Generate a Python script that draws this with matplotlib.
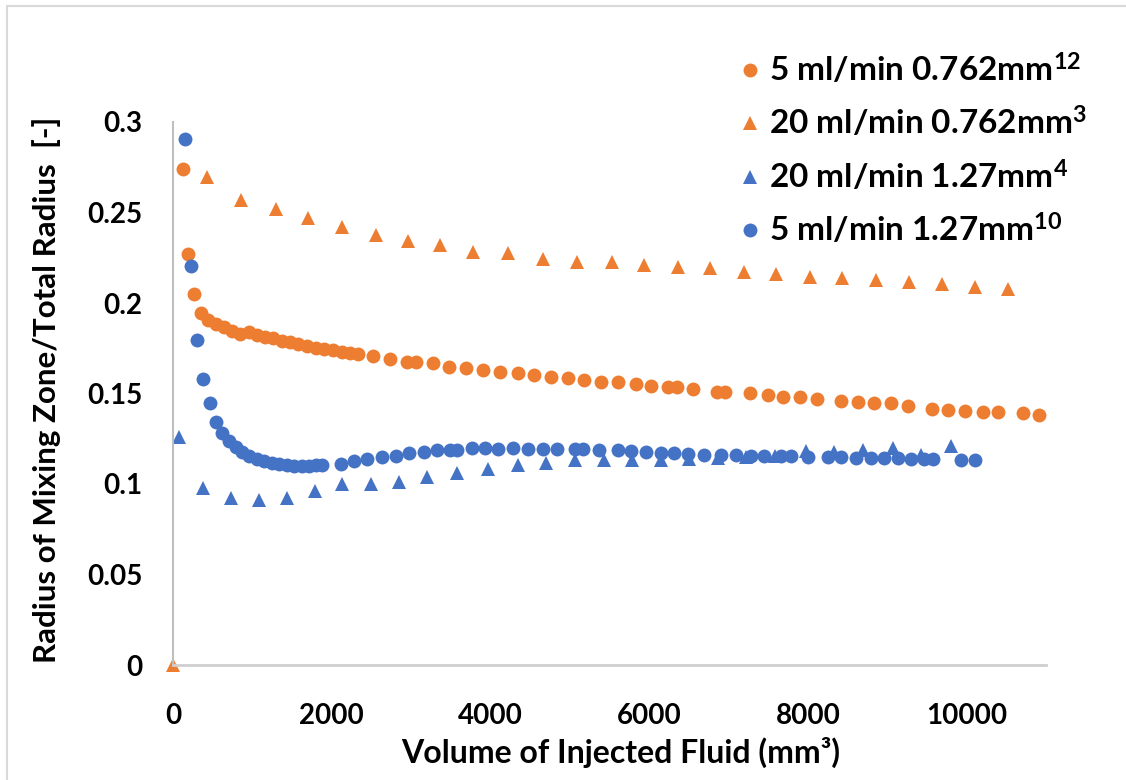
import matplotlib
matplotlib.use("Agg")
import matplotlib.pyplot as plt
from matplotlib.lines import Line2D
from matplotlib.patches import Rectangle

plt.rcParams['font.family'] = ['Lato', 'DejaVu Sans']
plt.rcParams['font.weight'] = 'bold'
plt.rcParams['mathtext.fontset'] = 'custom'
plt.rcParams['mathtext.rm'] = 'Lato:bold'
plt.rcParams['mathtext.it'] = 'Lato:bold'
plt.rcParams['mathtext.bf'] = 'Lato:bold'

ORANGE = '#ED7D31'
BLUE = '#4472C4'

# 5 ml/min, 0.762 mm
vol_5_0762 = [126, 189, 265, 353, 442, 543, 644, 744, 845, 959, 1060, 1161, 1262,
              1375, 1476, 1577, 1691, 1804, 1905, 2019, 2132, 2233, 2334, 2524,
              2738, 2953, 3066, 3281, 3483, 3697, 3912, 4126, 4341, 4543, 4757,
              4972, 5174, 5388, 5603, 5830, 6019, 6233, 6347, 6549, 6852, 6953,
              7268, 7495, 7685, 7899, 8114, 8416, 8631, 8833, 9047, 9262, 9565,
              9767, 9981, 10208, 10397, 10713, 10915]
rad_5_0762 = [0.274, 0.227, 0.205, 0.1945, 0.1906, 0.1884, 0.1867, 0.1845, 0.1829,
              0.184, 0.1823, 0.1812, 0.1807, 0.179, 0.1785, 0.1773, 0.1762,
              0.1751, 0.1746, 0.174, 0.1729, 0.1724, 0.1718, 0.1707, 0.1691,
              0.1674, 0.1674, 0.1669, 0.1646, 0.1641, 0.163, 0.1619, 0.1613,
              0.1602, 0.1591, 0.1586, 0.1575, 0.1564, 0.1564, 0.1552, 0.1541,
              0.1536, 0.1536, 0.1525, 0.1508, 0.1508, 0.1503, 0.1492, 0.1481,
              0.1481, 0.147, 0.1459, 0.1453, 0.1448, 0.1448, 0.1431, 0.1414,
              0.1409, 0.1403, 0.1398, 0.1398, 0.1392, 0.1381]

# 20 ml/min, 0.762 mm
vol_20_0762 = [0, 429, 858, 1300, 1703, 2132, 2561, 2965, 3369, 3785, 4227, 4656,
               5085, 5527, 5931, 6360, 6763, 7192, 7596, 8025, 8429, 8858, 9274,
               9691, 10107, 10524]
rad_20_0762 = [0.0, 0.2696, 0.2569, 0.2519, 0.247, 0.242, 0.2376, 0.2343, 0.232,
               0.2282, 0.2276, 0.2243, 0.2227, 0.2227, 0.221, 0.2199, 0.2193,
               0.2171, 0.216, 0.2144, 0.2138, 0.2127, 0.2116, 0.2105, 0.2088,
               0.2077]

# 20 ml/min, 1.27 mm
vol_20_127 = [76, 379, 732, 1085, 1438, 1792, 2132, 2498, 2852, 3205, 3584, 3975,
              4341, 4694, 5060, 5426, 5779, 6145, 6498, 6864, 7218, 7584, 7975,
              8328, 8694, 9073, 9426, 9804]
rad_20_127 = [0.126, 0.0978, 0.0923, 0.0912, 0.0923, 0.0961, 0.1, 0.1, 0.1011,
              0.1039, 0.1061, 0.1083, 0.1105, 0.1116, 0.1133, 0.1133, 0.1133,
              0.1133, 0.1138, 0.1144, 0.1149, 0.1155, 0.1182, 0.1177, 0.1188,
              0.1199, 0.116, 0.121]

# 5 ml/min, 1.27 mm
vol_5_127 = [151, 227, 303, 379, 467, 543, 618, 707, 795, 871, 959, 1060, 1148,
             1249, 1338, 1438, 1527, 1628, 1716, 1804, 1880, 2120, 2284, 2448,
             2637, 2814, 2978, 3167, 3331, 3495, 3584, 3773, 3937, 4101, 4290,
             4467, 4656, 4833, 5060, 5161, 5363, 5603, 5767, 5956, 6145, 6309,
             6486, 6688, 6902, 7091, 7281, 7445, 7659, 7785, 8000, 8252, 8416,
             8606, 8795, 8959, 9136, 9300, 9464, 9577, 9931, 10107]
rad_5_127 = [0.2906, 0.2204, 0.1796, 0.158, 0.1448, 0.1343, 0.1282, 0.1238,
             0.1204, 0.1177, 0.1155, 0.1138, 0.1127, 0.1116, 0.1111, 0.1105,
             0.1099, 0.1099, 0.1099, 0.1105, 0.1105, 0.1111, 0.1127, 0.1138,
             0.1149, 0.1155, 0.1171, 0.1177, 0.1188, 0.1188, 0.1188, 0.1199,
             0.1199, 0.1193, 0.1199, 0.1193, 0.1193, 0.1193, 0.1193, 0.1193,
             0.1188, 0.1188, 0.1182, 0.1177, 0.1171, 0.1171, 0.1166, 0.116,
             0.116, 0.116, 0.1155, 0.1155, 0.1155, 0.1155, 0.1149, 0.1149,
             0.1149, 0.1144, 0.1144, 0.1144, 0.1144, 0.1138, 0.1138, 0.1138,
             0.1133, 0.1133]

labels = ['5 ml/min 0.762mm$^{12}$', '20 ml/min 0.762mm$^{3}$',
          '20 ml/min 1.27mm$^{4}$', '5 ml/min 1.27mm$^{10}$']
xticks = [0, 2000, 4000, 6000, 8000, 10000]
yticks = [0, 0.05, 0.1, 0.15, 0.2, 0.25, 0.3]
ytick_labels = ['0', '0.05', '0.1', '0.15', '0.2', '0.25', '0.3']

fig = plt.figure(figsize=(11.26, 7.8), dpi=100)
W, H = 1126, 780

# light chart-area border (only top and left edges fall inside the image)
fig.patches.append(Rectangle((7 / W, -0.1), 1.2, 1 - 6 / H + 0.1,
                             transform=fig.transFigure, fill=False,
                             edgecolor='#D9D9D9', lw=1.5))

ax = fig.add_axes([173 / W, 1 - 665 / H, (1046 - 173) / W, (665 - 122) / H])

ms = 10
ax.plot(vol_5_0762, rad_5_0762, 'o', color=ORANGE, ms=ms, mew=0, clip_on=False)
ax.plot(vol_20_0762, rad_20_0762, '^', color=ORANGE, ms=ms, mew=0, clip_on=False)
ax.plot(vol_20_127, rad_20_127, '^', color=BLUE, ms=ms, mew=0, clip_on=False)
ax.plot(vol_5_127, rad_5_127, 'o', color=BLUE, ms=ms, mew=0, clip_on=False)

ax.set_xlim(0, 11000)
ax.set_ylim(0, 0.3)
ax.set_xticks(xticks)
ax.set_xticklabels([str(t) for t in xticks])
ax.set_yticks(yticks)
ax.set_yticklabels(ytick_labels)
ax.tick_params(axis='both', length=0, labelsize=20)
ax.tick_params(axis='x', pad=27)
ax.tick_params(axis='y', pad=22)

for side in ['top', 'right']:
    ax.spines[side].set_visible(False)
ax.spines['left'].set_color('#BFBFBF')
ax.spines['left'].set_linewidth(1.5)
ax.spines['bottom'].set_color('#CFCFCF')
ax.spines['bottom'].set_linewidth(2)

fig.text(621 / W, 1 - 752 / H, 'Volume of Injected Fluid (mm³)', fontsize=23,
         ha='center', va='center')
fig.text(47 / W, 1 - 390 / H, 'Radius of Mixing Zone/Total Radius  [-]',
         fontsize=22.5, ha='center', va='center', rotation=90)

handles = [
    Line2D([], [], ls='none', marker='o', color=ORANGE, ms=ms, mew=0),
    Line2D([], [], ls='none', marker='^', color=ORANGE, ms=ms, mew=0),
    Line2D([], [], ls='none', marker='^', color=BLUE, ms=ms, mew=0),
    Line2D([], [], ls='none', marker='o', color=BLUE, ms=ms, mew=0),
]
fig.legend(handles, labels, loc='upper left', bbox_to_anchor=(727 / W, 1 - 38 / H),
           frameon=False, fontsize=24, handlelength=0.6, handletextpad=0.25,
           labelspacing=0.55, borderaxespad=0)

fig.savefig('out.png', dpi=100)
